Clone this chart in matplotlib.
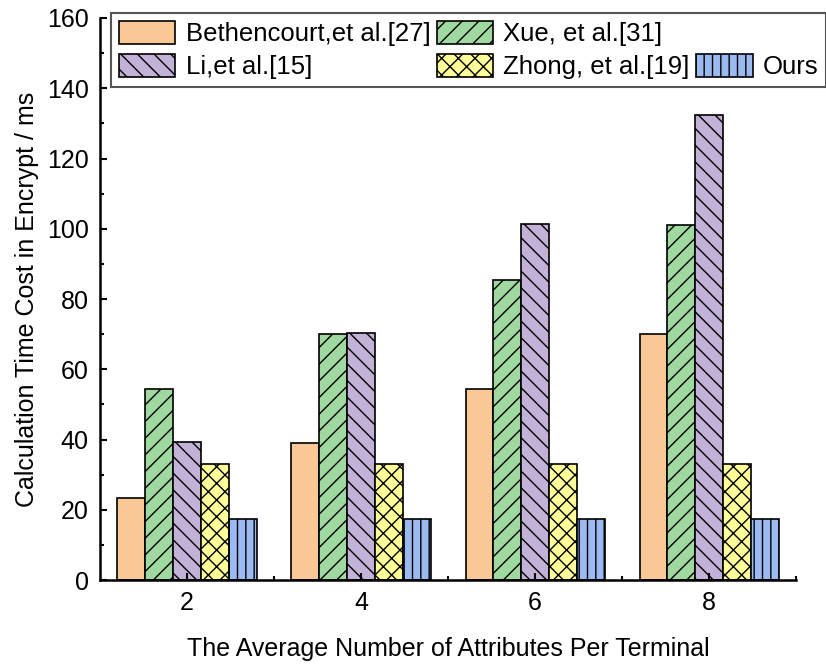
import matplotlib
matplotlib.use("Agg")
import matplotlib.pyplot as plt
from matplotlib.patches import Rectangle
import numpy as np

plt.rcParams['font.family'] = ['Liberation Sans', 'DejaVu Sans']
plt.rcParams['hatch.linewidth'] = 1.0

# Tempo de cifragem por número médio de atributos
atributos = [2, 4, 6, 8]
bethencourt = [23.3, 39.0, 54.3, 70.0]
xue = [54.3, 70.0, 85.5, 101.0]
li = [39.3, 70.3, 101.5, 132.5]
zhong = [33.0, 33.0, 33.0, 33.0]
ours = [17.5, 17.5, 17.5, 17.5]

series = [
    ('Bethencourt,et al.[27]', bethencourt, '#F9C896', ''),
    ('Xue, et al.[31]', xue, '#A0D9A0', '//'),
    ('Li,et al.[15]', li, '#C3B2D8', '\\\\'),
    ('Zhong, et al.[19]', zhong, '#FFFF99', 'xx'),
    ('Ours', ours, '#9BBAF0', '||'),
]

fig = plt.figure(figsize=(8.26, 6.66), dpi=100)
ax = fig.add_axes([0.121, 0.129, 0.843, 0.844])

largura = 0.32
x = np.array(atributos, dtype=float)
handles = []
for i, (nome, vals, cor, hachura) in enumerate(series):
    b = ax.bar(x + (i - 2) * largura, vals, width=largura, color=cor,
               edgecolor='black', linewidth=1.2, hatch=hachura, label=nome)
    handles.append(b)

ax.set_xlim(1, 9)
ax.set_ylim(0, 160)
ax.set_xticks(atributos)
ax.set_xticks([3, 5, 7, 9], minor=True)
ax.set_yticks(np.arange(0, 161, 20))
ax.set_yticks(np.arange(10, 160, 20), minor=True)

for lado in ['top', 'right']:
    ax.spines[lado].set_visible(False)
for lado in ['left', 'bottom']:
    ax.spines[lado].set_linewidth(1.8)

ax.tick_params(axis='both', which='major', direction='in', length=5, width=1.5,
               labelsize=18, pad=8)
ax.tick_params(axis='both', which='minor', direction='in', length=3, width=1.5)

ax.set_xlabel('The Average Number of Attributes Per Terminal', fontsize=18, labelpad=16)
ax.set_ylabel('Calculation Time Cost in Encrypt / ms', fontsize=18, labelpad=6)

# legenda em duas linhas, com um item vazio para empurrar "Ours" para baixo
vazio = Rectangle((0, 0), 1, 1, visible=False)
ordem = [handles[0], handles[2], handles[1], handles[3], vazio, handles[4]]
rotulos = [series[0][0], series[2][0], series[1][0], series[3][0], '', series[4][0]]
leg = fig.legend(ordem, rotulos, ncol=3, loc='upper left',
                 bbox_to_anchor=(111 / 826, 1 - 13 / 666), borderaxespad=0,
                 fontsize=18.5, handlelength=2.2, handleheight=1.0,
                 handletextpad=0.4, columnspacing=0.25, labelspacing=0.3,
                 borderpad=0.3, fancybox=False, framealpha=1)
leg.get_frame().set_edgecolor('#555555')
leg.get_frame().set_linewidth(1.5)

fig.savefig('out.png', dpi=100)
